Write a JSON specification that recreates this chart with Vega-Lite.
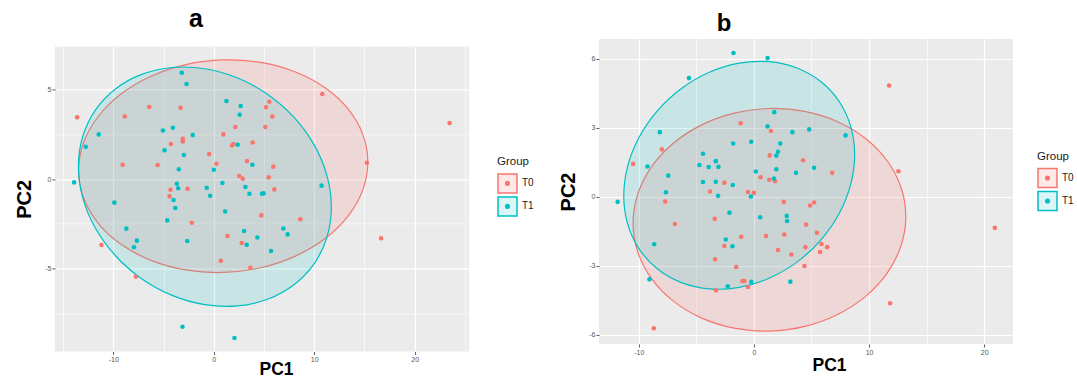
{
  "$schema": "https://vega.github.io/schema/vega-lite/v6.json",
  "padding": {"left": 14, "top": 6, "right": 0, "bottom": 0},
  "spacing": 24,
  "config": {
    "font": "Liberation Sans",
    "view": {"fill": "#EBEBEB", "stroke": null},
    "axis": {"domain": false, "tickColor": "#333333", "tickSize": 3, "tickWidth": 0.8, "labelColor": "#555555", "labelFontSize": 7, "labelPadding": 1, "gridColor": "#FFFFFF", "titleFontWeight": "bold", "titleFontSize": 19, "titleColor": "#000000"},
    "axisX": {"titleFontSize": 17.5},
    "axisY": {"titleFontSize": 20},
    "legend": {"padding": 0, "titleFontSize": 11.5, "titleFontWeight": "normal", "titleColor": "#1a1a1a", "titlePadding": 5, "labelFontSize": 10, "labelColor": "#1a1a1a", "labelOffset": 4, "rowPadding": -3, "symbolSize": 361, "symbolStrokeWidth": 1.5, "symbolType": "M-1,-1H1V1H-1Z M0.19,0A0.19,0.19 0 1,1 -0.19,0A0.19,0.19 0 1,1 0.19,0Z M0.07,0A0.07,0.07 0 1,1 -0.07,0A0.07,0.07 0 1,1 0.07,0Z"},
    "title": {"fontWeight": "bold", "color": "#000000", "anchor": "middle"}
  },
  "resolve": {"scale": {"x": "independent", "y": "independent", "color": "independent", "stroke": "independent", "fill": "independent"}, "legend": {"stroke": "independent", "fill": "independent", "color": "independent"}},
  "datasets": {
    "pa": [
      {"g":"T0","x":-13.6,"y":3.44},{"g":"T0","x":-8.86,"y":3.49},{"g":"T0","x":-6.42,"y":4.02},{"g":"T0","x":-3.31,"y":3.98},{"g":"T0","x":-9.07,"y":0.8},{"g":"T0","x":-5.59,"y":0.78},{"g":"T0","x":-4.27,"y":1.95},{"g":"T0","x":-3.08,"y":2.25},{"g":"T0","x":-3.08,"y":2.1},{"g":"T0","x":-0.46,"y":1.39},{"g":"T0","x":0.27,"y":0.85},{"g":"T0","x":0.96,"y":2.49},{"g":"T0","x":2.15,"y":2.9},{"g":"T0","x":1.82,"y":1.87},{"g":"T0","x":1.96,"y":1.95},{"g":"T0","x":3.87,"y":2.04},{"g":"T0","x":3.31,"y":1.0},{"g":"T0","x":5.13,"y":2.9},{"g":"T0","x":5.2,"y":4.0},{"g":"T0","x":5.53,"y":4.31},{"g":"T0","x":5.83,"y":3.49},{"g":"T0","x":5.93,"y":0.69},{"g":"T0","x":5.46,"y":0.09},{"g":"T0","x":6.03,"y":-0.58},{"g":"T0","x":2.52,"y":0.17},{"g":"T0","x":2.88,"y":0.02},{"g":"T0","x":-2.61,"y":-0.54},{"g":"T0","x":-4.3,"y":-0.6},{"g":"T0","x":-4.4,"y":-0.97},{"g":"T0","x":-11.18,"y":-3.68},{"g":"T0","x":-7.75,"y":-5.45},{"g":"T0","x":-2.18,"y":-2.44},{"g":"T0","x":0.7,"y":-4.56},{"g":"T0","x":1.36,"y":-3.18},{"g":"T0","x":2.78,"y":-3.57},{"g":"T0","x":3.64,"y":-4.95},{"g":"T0","x":4.74,"y":-2.03},{"g":"T0","x":8.61,"y":-2.25},{"g":"T0","x":16.65,"y":-3.31},{"g":"T0","x":10.8,"y":4.74},{"g":"T0","x":23.47,"y":3.12},{"g":"T0","x":15.23,"y":0.91},
      {"g":"T1","x":-3.18,"y":5.93},{"g":"T1","x":-2.71,"y":5.3},{"g":"T1","x":-13.9,"y":-0.19},{"g":"T1","x":-12.74,"y":1.8},{"g":"T1","x":-11.45,"y":2.49},{"g":"T1","x":-5.06,"y":2.71},{"g":"T1","x":-4.07,"y":2.86},{"g":"T1","x":-4.9,"y":1.6},{"g":"T1","x":-2.09,"y":2.45},{"g":"T1","x":-2.98,"y":1.34},{"g":"T1","x":-3.48,"y":0.54},{"g":"T1","x":1.26,"y":4.35},{"g":"T1","x":2.68,"y":4.07},{"g":"T1","x":2.58,"y":3.59},{"g":"T1","x":2.38,"y":1.91},{"g":"T1","x":0,"y":0.52},{"g":"T1","x":3.84,"y":0.8},{"g":"T1","x":-3.67,"y":-0.26},{"g":"T1","x":-3.54,"y":-0.52},{"g":"T1","x":-0.7,"y":-0.49},{"g":"T1","x":-0.36,"y":-0.93},{"g":"T1","x":0.86,"y":-0.22},{"g":"T1","x":3.15,"y":-0.45},{"g":"T1","x":3.55,"y":-0.82},{"g":"T1","x":4.8,"y":-0.82},{"g":"T1","x":4.95,"y":-0.8},{"g":"T1","x":-4.0,"y":-1.17},{"g":"T1","x":-3.83,"y":-1.62},{"g":"T1","x":-4.63,"y":-2.31},{"g":"T1","x":-9.89,"y":-1.32},{"g":"T1","x":-8.7,"y":-2.77},{"g":"T1","x":-7.65,"y":-3.44},{"g":"T1","x":-7.94,"y":-3.81},{"g":"T1","x":-2.64,"y":-3.46},{"g":"T1","x":1.13,"y":-1.81},{"g":"T1","x":3.02,"y":-2.9},{"g":"T1","x":3.28,"y":-3.67},{"g":"T1","x":4.34,"y":-3.26},{"g":"T1","x":5.7,"y":-4.02},{"g":"T1","x":6.92,"y":-2.76},{"g":"T1","x":7.35,"y":-3.09},{"g":"T1","x":10.73,"y":-0.37},{"g":"T1","x":-3.11,"y":-8.24},{"g":"T1","x":2.06,"y":-8.87}
    ],
    "pb": [
      {"g":"T0","x":-10.49,"y":1.42},{"g":"T0","x":-7.99,"y":2.05},{"g":"T0","x":-1.16,"y":3.19},{"g":"T0","x":1.48,"y":2.85},{"g":"T0","x":1.37,"y":1.79},{"g":"T0","x":0.58,"y":0.84},{"g":"T0","x":1.34,"y":0.73},{"g":"T0","x":1.83,"y":0.67},{"g":"T0","x":4.27,"y":1.58},{"g":"T0","x":6.8,"y":1.03},{"g":"T0","x":12.55,"y":1.1},{"g":"T0","x":11.74,"y":4.83},{"g":"T0","x":-2.56,"y":0.6},{"g":"T0","x":-3.81,"y":0.22},{"g":"T0","x":-0.52,"y":0.2},{"g":"T0","x":0,"y":0.16},{"g":"T0","x":-7.7,"y":-0.22},{"g":"T0","x":-6.86,"y":-1.19},{"g":"T0","x":-3.4,"y":-0.97},{"g":"T0","x":-1.1,"y":-1.75},{"g":"T0","x":-2.56,"y":-2.15},{"g":"T0","x":-3.37,"y":-2.73},{"g":"T0","x":-1.54,"y":-3.06},{"g":"T0","x":-1.0,"y":-3.67},{"g":"T0","x":-0.82,"y":-3.67},{"g":"T0","x":-0.52,"y":-3.93},{"g":"T0","x":-3.29,"y":-4.07},{"g":"T0","x":1.05,"y":-1.72},{"g":"T0","x":2.09,"y":-2.32},{"g":"T0","x":2.59,"y":-0.23},{"g":"T0","x":2.64,"y":-1.65},{"g":"T0","x":3.25,"y":-2.52},{"g":"T0","x":4.88,"y":-0.39},{"g":"T0","x":5.23,"y":-0.26},{"g":"T0","x":4.47,"y":-2.2},{"g":"T0","x":4.53,"y":-1.22},{"g":"T0","x":5.47,"y":-1.57},{"g":"T0","x":5.87,"y":-2.06},{"g":"T0","x":6.36,"y":-2.2},{"g":"T0","x":5.75,"y":-2.41},{"g":"T0","x":4.39,"y":-3.02},{"g":"T0","x":11.83,"y":-4.64},{"g":"T0","x":20.92,"y":-1.36},{"g":"T0","x":-8.69,"y":-5.73},
      {"g":"T1","x":-1.77,"y":6.24},{"g":"T1","x":1.19,"y":6.02},{"g":"T1","x":-5.64,"y":5.15},{"g":"T1","x":-8.17,"y":2.8},{"g":"T1","x":-9.24,"y":1.31},{"g":"T1","x":-7.44,"y":0.91},{"g":"T1","x":-7.64,"y":0.19},{"g":"T1","x":-11.83,"y":-0.23},{"g":"T1","x":-4.42,"y":1.86},{"g":"T1","x":-4.73,"y":1.37},{"g":"T1","x":-3.92,"y":1.28},{"g":"T1","x":-3.31,"y":1.54},{"g":"T1","x":-3.08,"y":1.29},{"g":"T1","x":-4.42,"y":0.63},{"g":"T1","x":-3.31,"y":0.64},{"g":"T1","x":-3.11,"y":0.03},{"g":"T1","x":-1.8,"y":2.31},{"g":"T1","x":-1.83,"y":0.5},{"g":"T1","x":-0.23,"y":2.38},{"g":"T1","x":-0.26,"y":0.0},{"g":"T1","x":0.17,"y":1.09},{"g":"T1","x":1.77,"y":3.67},{"g":"T1","x":1.19,"y":3.05},{"g":"T1","x":1.95,"y":1.78},{"g":"T1","x":2.09,"y":1.95},{"g":"T1","x":2.29,"y":2.31},{"g":"T1","x":1.95,"y":1.19},{"g":"T1","x":1.74,"y":0.78},{"g":"T1","x":3.34,"y":2.8},{"g":"T1","x":3.66,"y":1.03},{"g":"T1","x":4.8,"y":2.92},{"g":"T1","x":5.23,"y":1.25},{"g":"T1","x":7.96,"y":2.66},{"g":"T1","x":-2.12,"y":-0.7},{"g":"T1","x":0.55,"y":-0.9},{"g":"T1","x":2.85,"y":-0.84},{"g":"T1","x":2.88,"y":-1.06},{"g":"T1","x":-2.44,"y":-1.87},{"g":"T1","x":-1.86,"y":-2.16},{"g":"T1","x":-8.66,"y":-2.07},{"g":"T1","x":-9.07,"y":-3.6},{"g":"T1","x":-2.27,"y":-3.9},{"g":"T1","x":-0.23,"y":-3.71},{"g":"T1","x":3.17,"y":-3.7}
    ],
    "ea": [
      {"g":"T0","i":0,"x":15.33,"y":0.952},{"g":"T0","i":1,"x":14.84,"y":-0.591},{"g":"T0","i":2,"x":13.4,"y":-2.044},{"g":"T0","i":3,"x":11.115,"y":-3.31},{"g":"T0","i":4,"x":8.135,"y":-4.301},{"g":"T0","i":5,"x":4.664,"y":-4.952},{"g":"T0","i":6,"x":0.94,"y":-5.215},{"g":"T0","i":7,"x":-2.784,"y":-5.074},{"g":"T0","i":8,"x":-6.255,"y":-4.539},{"g":"T0","i":9,"x":-9.235,"y":-3.646},{"g":"T0","i":10,"x":-11.52,"y":-2.456},{"g":"T0","i":11,"x":-12.96,"y":-1.049},{"g":"T0","i":12,"x":-13.45,"y":0.478},{"g":"T0","i":13,"x":-12.96,"y":2.021},{"g":"T0","i":14,"x":-11.52,"y":3.474},{"g":"T0","i":15,"x":-9.235,"y":4.74},{"g":"T0","i":16,"x":-6.255,"y":5.731},{"g":"T0","i":17,"x":-2.784,"y":6.382},{"g":"T0","i":18,"x":0.94,"y":6.645},{"g":"T0","i":19,"x":4.664,"y":6.504},{"g":"T0","i":20,"x":8.135,"y":5.969},{"g":"T0","i":21,"x":11.115,"y":5.076},{"g":"T0","i":22,"x":13.4,"y":3.886},{"g":"T0","i":23,"x":14.84,"y":2.479},
      {"g":"T1","i":0,"x":11.7,"y":-1.566},{"g":"T1","i":1,"x":11.271,"y":-3.23},{"g":"T1","i":2,"x":10.014,"y":-4.705},{"g":"T1","i":3,"x":8.014,"y":-5.887},{"g":"T1","i":4,"x":5.408,"y":-6.698},{"g":"T1","i":5,"x":2.372,"y":-7.082},{"g":"T1","i":6,"x":-0.885,"y":-7.012},{"g":"T1","i":7,"x":-4.142,"y":-6.494},{"g":"T1","i":8,"x":-7.178,"y":-5.562},{"g":"T1","i":9,"x":-9.784,"y":-4.281},{"g":"T1","i":10,"x":-11.784,"y":-2.737},{"g":"T1","i":11,"x":-13.041,"y":-1.036},{"g":"T1","i":12,"x":-13.47,"y":0.706},{"g":"T1","i":13,"x":-13.041,"y":2.37},{"g":"T1","i":14,"x":-11.784,"y":3.845},{"g":"T1","i":15,"x":-9.784,"y":5.027},{"g":"T1","i":16,"x":-7.178,"y":5.838},{"g":"T1","i":17,"x":-4.142,"y":6.222},{"g":"T1","i":18,"x":-0.885,"y":6.152},{"g":"T1","i":19,"x":2.372,"y":5.634},{"g":"T1","i":20,"x":5.408,"y":4.702},{"g":"T1","i":21,"x":8.014,"y":3.421},{"g":"T1","i":22,"x":10.014,"y":1.877},{"g":"T1","i":23,"x":11.271,"y":0.176}
    ],
    "eb": [
      {"g":"T0","i":0,"x":13.19,"y":-0.865},{"g":"T0","i":1,"x":12.786,"y":-2.122},{"g":"T0","i":2,"x":11.604,"y":-3.303},{"g":"T0","i":3,"x":9.722,"y":-4.328},{"g":"T0","i":4,"x":7.27,"y":-5.127},{"g":"T0","i":5,"x":4.414,"y":-5.645},{"g":"T0","i":6,"x":1.35,"y":-5.848},{"g":"T0","i":7,"x":-1.714,"y":-5.721},{"g":"T0","i":8,"x":-4.57,"y":-5.273},{"g":"T0","i":9,"x":-7.022,"y":-4.534},{"g":"T0","i":10,"x":-8.904,"y":-3.555},{"g":"T0","i":11,"x":-10.086,"y":-2.402},{"g":"T0","i":12,"x":-10.49,"y":-1.155},{"g":"T0","i":13,"x":-10.086,"y":0.102},{"g":"T0","i":14,"x":-8.904,"y":1.283},{"g":"T0","i":15,"x":-7.022,"y":2.308},{"g":"T0","i":16,"x":-4.57,"y":3.107},{"g":"T0","i":17,"x":-1.714,"y":3.625},{"g":"T0","i":18,"x":1.35,"y":3.828},{"g":"T0","i":19,"x":4.414,"y":3.701},{"g":"T0","i":20,"x":7.27,"y":3.253},{"g":"T0","i":21,"x":9.722,"y":2.514},{"g":"T0","i":22,"x":11.604,"y":1.535},{"g":"T0","i":23,"x":12.786,"y":0.382},
      {"g":"T1","i":0,"x":8.75,"y":1.817},{"g":"T1","i":1,"x":8.408,"y":0.526},{"g":"T1","i":2,"x":7.407,"y":-0.74},{"g":"T1","i":3,"x":5.814,"y":-1.89},{"g":"T1","i":4,"x":3.738,"y":-2.85},{"g":"T1","i":5,"x":1.319,"y":-3.552},{"g":"T1","i":6,"x":-1.275,"y":-3.949},{"g":"T1","i":7,"x":-3.869,"y":-4.014},{"g":"T1","i":8,"x":-6.288,"y":-3.742},{"g":"T1","i":9,"x":-8.364,"y":-3.152},{"g":"T1","i":10,"x":-9.957,"y":-2.284},{"g":"T1","i":11,"x":-10.958,"y":-1.198},{"g":"T1","i":12,"x":-11.3,"y":0.033},{"g":"T1","i":13,"x":-10.958,"y":1.325},{"g":"T1","i":14,"x":-9.957,"y":2.59},{"g":"T1","i":15,"x":-8.364,"y":3.74},{"g":"T1","i":16,"x":-6.288,"y":4.7},{"g":"T1","i":17,"x":-3.869,"y":5.402},{"g":"T1","i":18,"x":-1.275,"y":5.799},{"g":"T1","i":19,"x":1.319,"y":5.864},{"g":"T1","i":20,"x":3.738,"y":5.592},{"g":"T1","i":21,"x":5.814,"y":5.002},{"g":"T1","i":22,"x":7.407,"y":4.134},{"g":"T1","i":23,"x":8.408,"y":3.048}
    ]
  },
  "hconcat": [
    {
      "spacing": 6.4,
      "resolve": {"scale": {"color": "independent", "stroke": "independent", "fill": "independent"}, "legend": {"stroke": "independent", "fill": "independent", "color": "independent"}},
      "vconcat": [
        {
          "width": 414, "height": 1,
          "view": {"fill": null, "stroke": null},
          "title": {"text": "a", "fontSize": 25, "dx": -66, "offset": 7.3},
          "data": {"values": []},
          "mark": {"type": "point"}
        },
        {
          "width": 414, "height": 305,
          "layer": [
            {
              "data": {"name": "ea"},
              "mark": {"type": "line", "interpolate": "cardinal-closed", "strokeWidth": 1.2},
              "encoding": {
                "x": {"field": "x", "type": "quantitative", "scale": {"domain": [-15.8, 25.4], "nice": false, "zero": false},
                  "axis": {"title": "PC1", "values": [-15,-10,-5,0,5,10,15,20,25], "labelExpr": "datum.value % 10 === 0 ? '' + datum.value : ''", "tickOpacity": {"condition": {"test": "datum.value % 10 !== 0", "value": 0}, "value": 1}, "gridWidth": {"condition": {"test": "datum.value % 10 === 0", "value": 1.2}, "value": 0.6}, "titleX": 221, "titlePadding": -2}},
                "y": {"field": "y", "type": "quantitative", "scale": {"domain": [-9.62, 7.4], "nice": false, "zero": false},
                  "axis": {"title": "PC2", "values": [-7.5,-5,-2.5,0,2.5,5,7.5], "labelExpr": "datum.value % 5 === 0 ? '' + datum.value : ''", "tickOpacity": {"condition": {"test": "datum.value % 5 !== 0", "value": 0}, "value": 1}, "gridWidth": {"condition": {"test": "datum.value % 5 === 0", "value": 1.2}, "value": 0.6}, "titlePadding": 10}},
                "order": {"field": "i", "type": "quantitative"},
                "stroke": {"field": "g", "type": "nominal", "scale": {"domain": ["T0","T1"], "range": ["#F8766D","#00BFC4"]},
                  "legend": {"title": "Group", "orient": "none", "legendX": 442, "legendY": 110,
                    "encode": {"symbols": {"update": {"fill": {"signal": "datum.value === 'T0' ? 'rgba(248,118,109,0.18)' : 'rgba(0,191,196,0.16)'"}, "stroke": {"signal": "datum.value === 'T0' ? '#F8766D' : '#00BFC4'"}}}}}},
                "fill": {"field": "g", "type": "nominal", "scale": {"domain": ["T0","T1"], "range": ["rgba(248,118,109,0.16)","rgba(0,191,196,0.14)"]},
                  "legend": {"title": "Group", "orient": "none", "legendX": 442, "legendY": 110,
                    "encode": {"symbols": {"update": {"fill": {"signal": "datum.value === 'T0' ? 'rgba(248,118,109,0.18)' : 'rgba(0,191,196,0.16)'"}, "stroke": {"signal": "datum.value === 'T0' ? '#F8766D' : '#00BFC4'"}}}}}}
              }
            },
            {
              "data": {"name": "pa"},
              "mark": {"type": "point", "filled": true, "size": 21, "opacity": 1},
              "encoding": {
                "x": {"field": "x", "type": "quantitative"},
                "y": {"field": "y", "type": "quantitative"},
                "color": {"field": "g", "type": "nominal", "scale": {"domain": ["T0","T1"], "range": ["#F8766D","#00BFC4"]}, "legend": null}
              }
            }
          ]
        }
      ]
    },
    {
      "resolve": {"scale": {"color": "independent", "stroke": "independent", "fill": "independent"}, "legend": {"stroke": "independent", "fill": "independent", "color": "independent"}},
      "vconcat": [
        {
          "width": 414, "height": 305,
          "title": {"text": "b", "fontSize": 24, "dx": -82, "offset": 3.3},
          "layer": [
            {
              "data": {"name": "eb"},
              "mark": {"type": "line", "interpolate": "cardinal-closed", "strokeWidth": 1.2},
              "encoding": {
                "x": {"field": "x", "type": "quantitative", "scale": {"domain": [-13.45, 22.5], "nice": false, "zero": false},
                  "axis": {"title": "PC1", "values": [-10,-5,0,5,10,15,20], "labelExpr": "datum.value % 10 === 0 ? '' + datum.value : ''", "tickOpacity": {"condition": {"test": "datum.value % 10 !== 0", "value": 0}, "value": 1}, "gridWidth": {"condition": {"test": "datum.value % 10 === 0", "value": 1.2}, "value": 0.6}, "titleX": 230, "titlePadding": 1}},
                "y": {"field": "y", "type": "quantitative", "scale": {"domain": [-6.41, 6.85], "nice": false, "zero": false},
                  "axis": {"title": "PC2", "values": [-6,-4.5,-3,-1.5,0,1.5,3,4.5,6], "labelExpr": "datum.value % 3 === 0 ? '' + datum.value : ''", "tickOpacity": {"condition": {"test": "datum.value % 3 !== 0", "value": 0}, "value": 1}, "gridWidth": {"condition": {"test": "datum.value % 3 === 0", "value": 1.2}, "value": 0.6}, "titlePadding": 10}},
                "order": {"field": "i", "type": "quantitative"},
                "stroke": {"field": "g", "type": "nominal", "scale": {"domain": ["T0","T1"], "range": ["#F8766D","#00BFC4"]},
                  "legend": {"title": "Group", "orient": "none", "legendX": 438, "legendY": 112,
                    "encode": {"symbols": {"update": {"fill": {"signal": "datum.value === 'T0' ? 'rgba(248,118,109,0.18)' : 'rgba(0,191,196,0.16)'"}, "stroke": {"signal": "datum.value === 'T0' ? '#F8766D' : '#00BFC4'"}}}}}},
                "fill": {"field": "g", "type": "nominal", "scale": {"domain": ["T0","T1"], "range": ["rgba(248,118,109,0.16)","rgba(0,191,196,0.14)"]},
                  "legend": {"title": "Group", "orient": "none", "legendX": 438, "legendY": 112,
                    "encode": {"symbols": {"update": {"fill": {"signal": "datum.value === 'T0' ? 'rgba(248,118,109,0.18)' : 'rgba(0,191,196,0.16)'"}, "stroke": {"signal": "datum.value === 'T0' ? '#F8766D' : '#00BFC4'"}}}}}}
              }
            },
            {
              "data": {"name": "pb"},
              "mark": {"type": "point", "filled": true, "size": 21, "opacity": 1},
              "encoding": {
                "x": {"field": "x", "type": "quantitative"},
                "y": {"field": "y", "type": "quantitative"},
                "color": {"field": "g", "type": "nominal", "scale": {"domain": ["T0","T1"], "range": ["#F8766D","#00BFC4"]}, "legend": null}
              }
            }
          ]
        }
      ]
    }
  ]
}
